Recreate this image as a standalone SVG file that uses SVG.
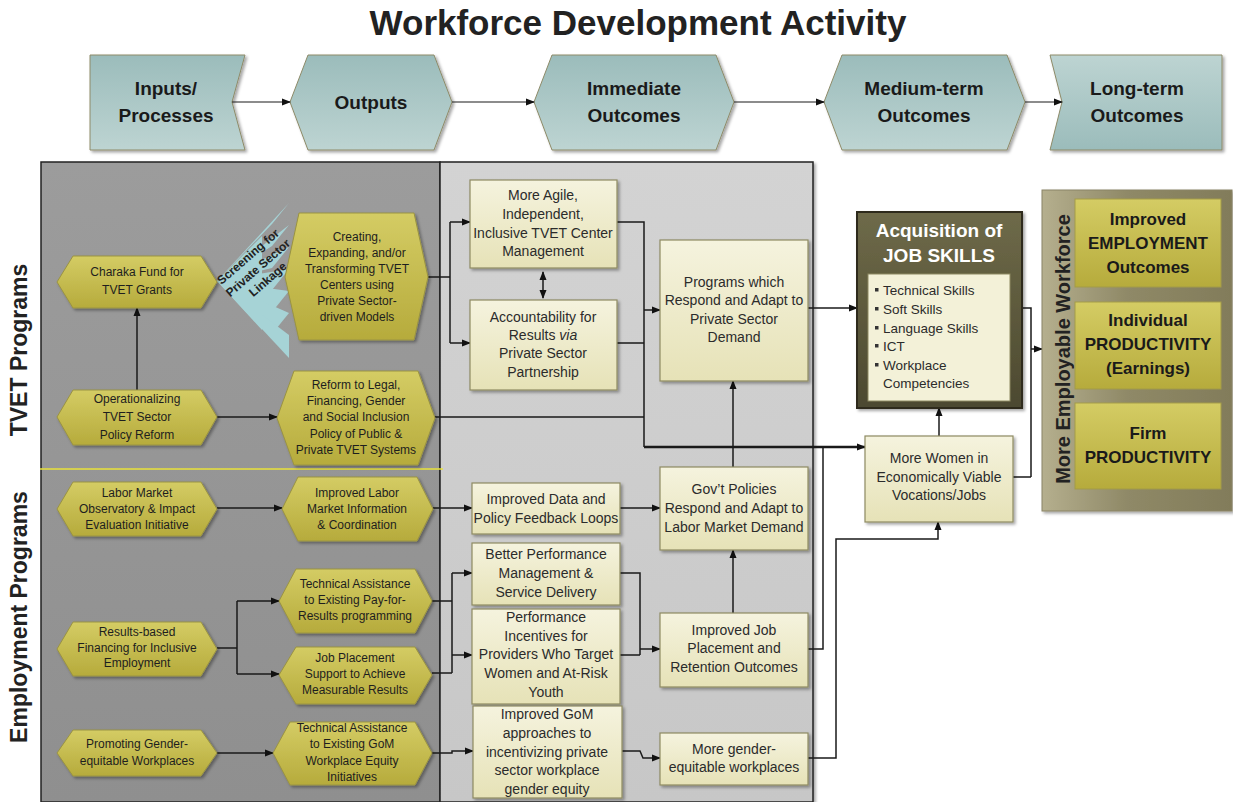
<svg xmlns="http://www.w3.org/2000/svg" width="1233" height="802" viewBox="0 0 1233 802">
<defs>
<linearGradient id="gTeal" x1="0" y1="0" x2="0" y2="1"><stop offset="0" stop-color="#9bbcbb"/><stop offset="1" stop-color="#bdd4d2"/></linearGradient>
<linearGradient id="gTealR" x1="0" y1="0" x2="0" y2="1"><stop offset="0" stop-color="#bdd4d2"/><stop offset="1" stop-color="#9bbcbb"/></linearGradient>
<linearGradient id="gOlive" x1="0" y1="0" x2="0" y2="1"><stop offset="0" stop-color="#d4cc64"/><stop offset="1" stop-color="#b6ab3c"/></linearGradient>
<linearGradient id="gCream" x1="0" y1="0" x2="0" y2="1"><stop offset="0" stop-color="#f5f3de"/><stop offset="1" stop-color="#e6e2b7"/></linearGradient>
<linearGradient id="gDark" x1="0" y1="0" x2="0" y2="1"><stop offset="0" stop-color="#6e6a49"/><stop offset="1" stop-color="#4c4930"/></linearGradient>
<linearGradient id="gLong" x1="0" y1="0" x2="1" y2="0"><stop offset="0" stop-color="#b5af8e"/><stop offset="0.45" stop-color="#8f8967"/><stop offset="1" stop-color="#827c5a"/></linearGradient>
<linearGradient id="gLeft" x1="0" y1="0" x2="0" y2="1"><stop offset="0" stop-color="#9c9c9c"/><stop offset="1" stop-color="#8f8f8f"/></linearGradient>
<linearGradient id="gMid" x1="0" y1="0" x2="0" y2="1"><stop offset="0" stop-color="#d3d3d3"/><stop offset="1" stop-color="#c7c7c7"/></linearGradient>
<filter id="sh" x="-10%" y="-10%" width="130%" height="130%"><feDropShadow dx="2" dy="2" stdDeviation="1.5" flood-color="#000" flood-opacity="0.35"/></filter>
<marker id="ah" markerWidth="9" markerHeight="8" refX="8" refY="4" orient="auto-start-reverse" markerUnits="userSpaceOnUse"><path d="M0,0.5 L9,4 L0,7.5 z" fill="#111"/></marker>
</defs>
<style>
text{font-family:"Liberation Sans",Arial,sans-serif;fill:#222}
.hdr{fill:url(#gTeal);stroke:#8d8a68;stroke-width:1;filter:url(#sh)}
.hx{fill:url(#gOlive);stroke:#9a9342;stroke-width:1;filter:url(#sh)}
.bx{fill:url(#gCream);stroke:#8e8a62;stroke-width:1.2;filter:url(#sh)}
.yb{fill:url(#gOlive);stroke:#a39b48;stroke-width:1}
.ht{font-size:12px;text-anchor:middle;fill:#1e1e1e}
.bt{font-size:14px;text-anchor:middle;fill:#2b2b2b}
.hd{font-size:19px;font-weight:bold;text-anchor:middle;fill:#1a1a1a}
.yt{font-size:17px;font-weight:bold;text-anchor:middle;fill:#1a1a1a}
.li{font-size:13.5px;fill:#2b2b2b}
.c{fill:none;stroke:#1a1a1a;stroke-width:1.5}
.a{marker-end:url(#ah)}
</style>

<rect width="1233" height="802" fill="#ffffff"/>
<text x="638" y="35" font-size="35" font-weight="bold" text-anchor="middle" fill="#111">Workforce Development Activity</text>

<!-- header -->
<g id="h-inputs"><path class="hdr" d="M90,55 H245 L232,102 L245,150 H90 Z"/><text class="hd" x="166" y="95">Inputs/</text><text class="hd" x="166" y="122">Processes</text></g>
<g id="h-outputs"><path class="hdr" d="M290,102 L308,55 H434 L452,102 L434,150 H308 Z"/><text class="hd" x="371" y="109">Outputs</text></g>
<g id="h-immediate"><path class="hdr" d="M534,102 L552,55 H716 L734,102 L716,150 H552 Z"/><text class="hd" x="634" y="95">Immediate</text><text class="hd" x="634" y="122">Outcomes</text></g>
<g id="h-medium"><path class="hdr" d="M824,102 L842,55 H1007 L1025,102 L1007,150 H842 Z"/><text class="hd" x="924" y="95">Medium-term</text><text class="hd" x="924" y="122">Outcomes</text></g>
<g id="h-long"><path class="hdr" style="fill:url(#gTealR)" d="M1050,55 H1222 V150 H1050 L1062,102 Z"/><text class="hd" x="1137" y="95">Long-term</text><text class="hd" x="1137" y="122">Outcomes</text></g>

<!-- panels -->
<rect x="41" y="162" width="399" height="640" fill="url(#gLeft)" stroke="#222" stroke-width="1.5"/>
<rect x="440" y="162" width="373" height="640" fill="url(#gMid)" stroke="#222" stroke-width="1.5" filter="url(#sh)"/>
<line x1="40" y1="469" x2="443" y2="469" stroke="#e8e23a" stroke-width="1.5"/>
<text transform="translate(27,350) rotate(-90)" font-size="23" font-weight="bold" text-anchor="middle" fill="#111">TVET Programs</text>
<text transform="translate(27,617) rotate(-90)" font-size="23" font-weight="bold" text-anchor="middle" fill="#111">Employment Programs</text>

<!-- screening fan -->
<g id="screening">
<g fill="#a6d3d6">
<polygon points="217,281 289,203 272,224"/>
<polygon points="217,281 289,225 272,246"/>
<polygon points="217,281 289,247 272,268"/>
<polygon points="217,281 289,269 272,290"/>
<polygon points="217,281 289,291 272,312"/>
<polygon points="217,281 289,313 272,334"/>
<polygon points="217,281 289,335 289,358"/>
<polygon points="217,281 262,236 262,330"/>
</g>
<text transform="translate(258,268) rotate(-41)" font-size="12" font-weight="bold" text-anchor="middle" fill="#2a2a2a"><tspan x="0" y="-11">Screening for</tspan><tspan x="0" y="4">Private Sector</tspan><tspan x="0" y="19">Linkage</tspan></text>
</g>

<!-- connectors -->
<g id="connectors">
<path class="c a" style="stroke-width:1.2" d="M232,102 H290"/>
<path class="c a" style="stroke-width:1.2" d="M452,102 H534"/>
<path class="c a" style="stroke-width:1.2" d="M734,102 H824"/>
<path class="c a" style="stroke-width:1.2" d="M1025,102 H1062"/>
<path class="c a" d="M137,390 V308"/>
<path class="c a" d="M217,417 H277"/>
<path class="c" d="M428,277 H450 M450,222 V343"/>
<path class="c a" d="M450,222 H470"/>
<path class="c a" d="M450,343 H470"/>
<path class="c a" d="M543,272 V298" style="marker-start:url(#ah)"/>
<path class="c" d="M617,222 H644 V447 M617,343 H644 M435,417 H644"/>
<path class="c a" d="M644,310 H660"/>
<path class="c a" style="stroke-width:2.5" d="M644,447 H865"/>
<path class="c a" d="M808,308 H857"/>
<path class="c a" d="M217,508 H282"/>
<path class="c a" d="M433,508 H472"/>
<path class="c a" d="M620,508 H660"/>
<path class="c a" d="M733,467 V381"/>
<path class="c" d="M217,648 H237 M237,601 V674"/>
<path class="c a" d="M237,601 H279"/>
<path class="c a" d="M237,674 H279"/>
<path class="c" d="M432,601 H452 M432,673 H452 M452,573 V673"/>
<path class="c a" d="M452,573 H472"/>
<path class="c a" d="M452,655 H472"/>
<path class="c" d="M620,573 H640 V655 M620,655 H640"/>
<path class="c a" d="M640,649 H660"/>
<path class="c a" d="M733,613 V550"/>
<path class="c" d="M808,649 H823 V447"/>
<path class="c a" d="M217,753 H273"/>
<path class="c a" d="M432,753 H452 V751 H473"/>
<path class="c a" d="M622,751 H640 L643,758 H660"/>
<path class="c a" d="M808,758 H836 V539 H938 V522"/>
<path class="c a" d="M939,436 V408"/>
<path class="c" d="M1022,308 H1031 V477 M1013,477 H1031"/>
<path class="c a" d="M1031,349 H1042"/>
</g>

<!-- TVET hexagons -->
<g id="charaka"><path class="hx" d="M57,282 L73,256 H201 L217,282 L201,308 H73 Z"/><text class="ht"><tspan x="137" y="276">Charaka Fund for</tspan><tspan x="137" y="294">TVET Grants</tspan></text></g>
<g id="operationalizing"><path class="hx" d="M57,417 L73,390 H201 L217,417 L201,445 H73 Z"/><text class="ht"><tspan x="137" y="403">Operationalizing</tspan><tspan x="137" y="421">TVET Sector</tspan><tspan x="137" y="439">Policy Reform</tspan></text></g>
<g id="creating"><path class="hx" d="M285,277 L299,213 H414 L428,277 L414,340 H299 Z"/><text class="ht"><tspan x="357" y="241">Creating,</tspan><tspan x="357" y="257">Expanding, and/or</tspan><tspan x="357" y="273">Transforming TVET</tspan><tspan x="357" y="289">Centers using</tspan><tspan x="357" y="305">Private Sector-</tspan><tspan x="357" y="321">driven Models</tspan></text></g>
<g id="reform"><path class="hx" d="M277,418 L294,371 H418 L435,418 L418,465 H294 Z"/><text class="ht"><tspan x="356" y="389">Reform to Legal,</tspan><tspan x="356" y="405">Financing, Gender</tspan><tspan x="356" y="421">and Social Inclusion</tspan><tspan x="356" y="438">Policy of Public &amp;</tspan><tspan x="356" y="454">Private TVET Systems</tspan></text></g>

<!-- Employment hexagons -->
<g id="labor"><path class="hx" d="M57,509 L73,482 H201 L217,509 L201,536 H73 Z"/><text class="ht"><tspan x="137" y="497">Labor Market</tspan><tspan x="137" y="513">Observatory &amp; Impact</tspan><tspan x="137" y="529">Evaluation Initiative</tspan></text></g>
<g id="improved-labor"><path class="hx" d="M282,509 L298,477 H417 L433,509 L417,541 H298 Z"/><text class="ht"><tspan x="357" y="497">Improved Labor</tspan><tspan x="357" y="513">Market Information</tspan><tspan x="357" y="529">&amp; Coordination</tspan></text></g>
<g id="results"><path class="hx" d="M57,649 L73,622 H201 L217,649 L201,676 H73 Z"/><text class="ht"><tspan x="137" y="636">Results-based</tspan><tspan x="137" y="652">Financing for Inclusive</tspan><tspan x="137" y="667">Employment</tspan></text></g>
<g id="ta-pay"><path class="hx" d="M279,601 L296,569 H415 L432,601 L415,633 H296 Z"/><text class="ht"><tspan x="355" y="588">Technical Assistance</tspan><tspan x="355" y="604">to Existing Pay-for-</tspan><tspan x="355" y="620">Results programming</tspan></text></g>
<g id="job-support"><path class="hx" d="M279,675 L296,647 H415 L432,675 L415,704 H296 Z"/><text class="ht"><tspan x="355" y="662">Job Placement</tspan><tspan x="355" y="678">Support to Achieve</tspan><tspan x="355" y="694">Measurable Results</tspan></text></g>
<g id="promoting"><path class="hx" d="M57,753 L73,730 H201 L217,753 L201,776 H73 Z"/><text class="ht"><tspan x="137" y="748">Promoting Gender-</tspan><tspan x="137" y="765">equitable Workplaces</tspan></text></g>
<g id="ta-gom"><path class="hx" d="M273,753 L290,722 H415 L432,753 L415,785 H290 Z"/><text class="ht"><tspan x="352" y="732">Technical Assistance</tspan><tspan x="352" y="748">to Existing GoM</tspan><tspan x="352" y="765">Workplace Equity</tspan><tspan x="352" y="781">Initiatives</tspan></text></g>

<!-- immediate outcome boxes -->
<g id="agile"><rect class="bx" x="470" y="180" width="147" height="88"/><text class="bt"><tspan x="543" y="200">More Agile,</tspan><tspan x="543" y="219">Independent,</tspan><tspan x="543" y="238">Inclusive TVET Center</tspan><tspan x="543" y="256">Management</tspan></text></g>
<g id="accountability"><rect class="bx" x="470" y="300" width="147" height="90"/><text class="bt"><tspan x="543" y="322">Accountability for</tspan><tspan x="543" y="340">Results <tspan font-style="italic">via</tspan></tspan><tspan x="543" y="358">Private Sector</tspan><tspan x="543" y="377">Partnership</tspan></text></g>
<g id="improved-data"><rect class="bx" x="472" y="483" width="148" height="51"/><text class="bt"><tspan x="546" y="504">Improved Data and</tspan><tspan x="546" y="523">Policy Feedback Loops</tspan></text></g>
<g id="better-perf"><rect class="bx" x="472" y="543" width="148" height="62"/><text class="bt"><tspan x="546" y="559">Better Performance</tspan><tspan x="546" y="578">Management &amp;</tspan><tspan x="546" y="597">Service Delivery</tspan></text></g>
<g id="perf-incentives"><rect class="bx" x="472" y="609" width="148" height="95"/><text class="bt"><tspan x="546" y="622">Performance</tspan><tspan x="546" y="641">Incentives for</tspan><tspan x="546" y="659">Providers Who Target</tspan><tspan x="546" y="678">Women and At-Risk</tspan><tspan x="546" y="697">Youth</tspan></text></g>
<g id="improved-gom"><rect class="bx" x="473" y="706" width="149" height="92"/><text class="bt"><tspan x="547" y="719">Improved GoM</tspan><tspan x="547" y="738">approaches to</tspan><tspan x="547" y="757">incentivizing private</tspan><tspan x="547" y="775">sector workplace</tspan><tspan x="547" y="794">gender equity</tspan></text></g>

<!-- medium-term boxes -->
<g id="programs"><rect class="bx" x="660" y="240" width="148" height="141"/><text class="bt"><tspan x="734" y="287">Programs which</tspan><tspan x="734" y="305">Respond and Adapt to</tspan><tspan x="734" y="324">Private Sector</tspan><tspan x="734" y="342">Demand</tspan></text></g>
<g id="govt"><rect class="bx" x="660" y="467" width="148" height="83"/><text class="bt"><tspan x="734" y="494">Gov’t Policies</tspan><tspan x="734" y="513">Respond and Adapt to</tspan><tspan x="734" y="532">Labor Market Demand</tspan></text></g>
<g id="improved-job"><rect class="bx" x="660" y="613" width="148" height="74"/><text class="bt"><tspan x="734" y="635">Improved Job</tspan><tspan x="734" y="653">Placement and</tspan><tspan x="734" y="672">Retention Outcomes</tspan></text></g>
<g id="more-gender"><rect class="bx" x="660" y="733" width="148" height="52"/><text class="bt"><tspan x="734" y="754">More gender-</tspan><tspan x="734" y="772">equitable workplaces</tspan></text></g>

<!-- right side -->
<g id="more-women"><rect class="bx" x="865" y="436" width="148" height="86"/><text class="bt"><tspan x="939" y="463">More Women in</tspan><tspan x="939" y="482">Economically Viable</tspan><tspan x="939" y="500">Vocations/Jobs</tspan></text></g>
<g id="acquisition">
<rect x="857" y="212" width="165" height="196" fill="url(#gDark)" stroke="#2e2c1e" stroke-width="2" filter="url(#sh)"/>
<text x="939" y="237" font-size="19" font-weight="bold" text-anchor="middle" style="fill:#fff">Acquisition of</text>
<text x="939" y="262" font-size="19" font-weight="bold" text-anchor="middle" style="fill:#fff">JOB SKILLS</text>
<rect x="868" y="274" width="142" height="127" fill="#f3f1d8" stroke="#8e8a62" stroke-width="1"/>
<g fill="#333"><rect x="875" y="288" width="3.5" height="3.5"/><rect x="875" y="307" width="3.5" height="3.5"/><rect x="875" y="326" width="3.5" height="3.5"/><rect x="875" y="344" width="3.5" height="3.5"/><rect x="875" y="363" width="3.5" height="3.5"/></g>
<text class="li"><tspan x="883" y="295">Technical Skills</tspan><tspan x="883" y="314">Soft Skills</tspan><tspan x="883" y="333">Language Skills</tspan><tspan x="883" y="351">ICT</tspan><tspan x="883" y="370">Workplace</tspan><tspan x="883" y="388">Competencies</tspan></text>
</g>
<g id="long-term-panel">
<rect x="1042" y="190" width="190" height="321" fill="url(#gLong)" stroke="#8a8466" stroke-width="1" filter="url(#sh)"/>
<text transform="translate(1070,349) rotate(-90)" font-size="20" font-weight="bold" text-anchor="middle" fill="#1a1a1a">More Employable Workforce</text>
</g>
<g id="employment-outcomes"><rect class="yb" x="1075" y="199" width="146" height="88"/><text class="yt"><tspan x="1148" y="225">Improved</tspan><tspan x="1148" y="249">EMPLOYMENT</tspan><tspan x="1148" y="273">Outcomes</tspan></text></g>
<g id="individual-productivity"><rect class="yb" x="1075" y="302" width="146" height="87"/><text class="yt"><tspan x="1148" y="326">Individual</tspan><tspan x="1148" y="350">PRODUCTIVITY</tspan><tspan x="1148" y="374">(Earnings)</tspan></text></g>
<g id="firm-productivity"><rect class="yb" x="1075" y="403" width="146" height="86"/><text class="yt"><tspan x="1148" y="439">Firm</tspan><tspan x="1148" y="463">PRODUCTIVITY</tspan></text></g>
</svg>
